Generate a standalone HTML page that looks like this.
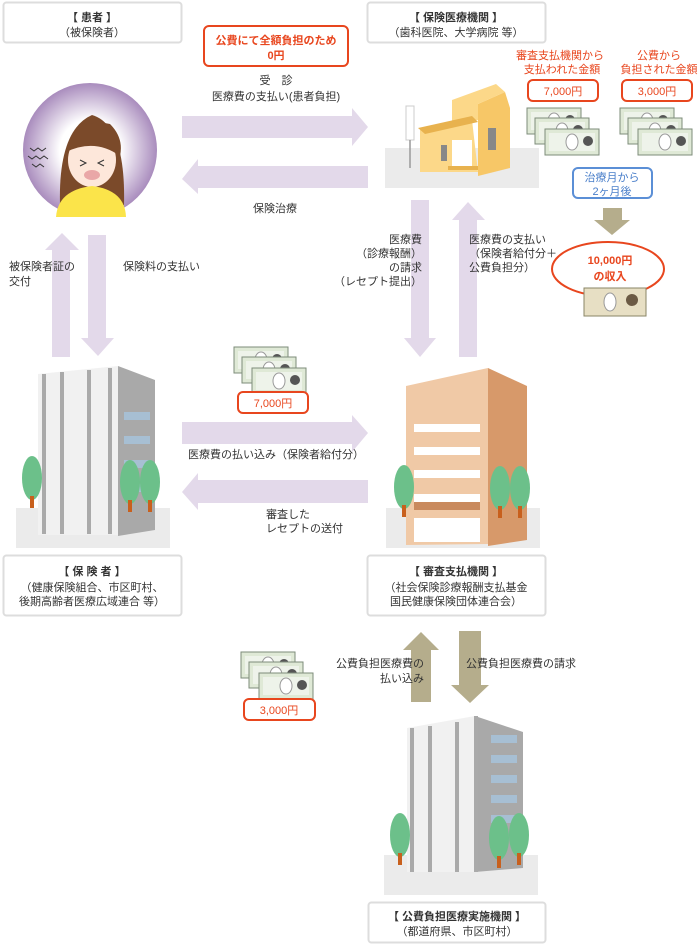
<!DOCTYPE html>
<html><head><meta charset="utf-8"><style>
body{margin:0;background:#fff}
svg{display:block}
text{font-family:"Liberation Sans","Noto Sans CJK JP",sans-serif;font-size:11px;fill:#333}
.r{fill:#e8461e}
.b{font-weight:bold}
</style></head><body>
<svg width="700" height="945" viewBox="0 0 700 945" xmlns="http://www.w3.org/2000/svg">
<defs>
<radialGradient id="pg" cx="50%" cy="50%" r="50%"><stop offset="0.45" stop-color="#fff"/><stop offset="1" stop-color="#a98cbd"/></radialGradient>
<g id="bill">
<rect x="0" y="0" width="54" height="26" fill="#dfe9d6" stroke="#7d8c7a"/>
<rect x="4" y="4" width="46" height="18" fill="#eef3ea"/>
<ellipse cx="27" cy="13" rx="6" ry="8" fill="#fff" stroke="#999"/>
<circle cx="43" cy="12" r="5" fill="#555"/>
</g>
<g id="bills">
<use href="#bill" x="0" y="0"/><use href="#bill" x="8" y="10"/><use href="#bill" x="18" y="21"/>
</g>
<g id="tree">
<ellipse cx="0" cy="0" rx="10" ry="22" fill="#6cc08a"/>
<rect x="-2" y="18" width="4" height="12" fill="#c8601d"/>
</g>
</defs>

<!-- top boxes -->
<rect x="3.5" y="2.5" width="178" height="40" rx="3" fill="#fff" stroke="#ddd" stroke-width="2"/>
<text x="92" y="21" text-anchor="middle" class="b" font-size="12">【 患者 】</text>
<text x="92" y="36" text-anchor="middle" font-size="10">（被保険者）</text>
<rect x="367.5" y="2.5" width="178" height="40" rx="3" fill="#fff" stroke="#ddd" stroke-width="2"/>
<text x="456" y="21" text-anchor="middle" class="b" font-size="12">【 保険医療機関 】</text>
<text x="456" y="36" text-anchor="middle" font-size="10">（歯科医院、大学病院 等）</text>

<rect x="204" y="26" width="144" height="40" rx="5" fill="#fff" stroke="#e8461e" stroke-width="2"/>
<text x="276" y="44" text-anchor="middle" class="r b" font-size="12">公費にて全額負担のため</text>
<text x="276" y="59" text-anchor="middle" class="r b" font-size="12">0円</text>

<text x="276" y="84" text-anchor="middle" font-size="12">受　診</text>
<text x="276" y="100" text-anchor="middle" font-size="12">医療費の支払い(患者負担)</text>

<!-- patient -->
<circle cx="90" cy="150" r="67" fill="url(#pg)"/>
<path d="M60 205 Q58 130 92 115 Q126 125 124 205 Z" fill="#7b4a2a"/>
<ellipse cx="92" cy="160" rx="24" ry="27" fill="#fde7da"/>
<path d="M66 152 Q76 116 110 124 Q124 138 120 156 Q95 138 66 152Z" fill="#7b4a2a"/>
<path d="M56 217 Q58 190 92 186 Q125 190 126 217 Z" fill="#fbe44a"/>
<ellipse cx="92" cy="175" rx="8" ry="5" fill="#e9a7a7"/>
<path d="M80 160 l6 3 -6 3 M104 160 l-6 3 6 3" stroke="#333" fill="none"/>
<path d="M30 148 l4 3 4-3 4 3 4-3 M28 156 l4 3 4-3 4 3 4-3 4 3 M32 164 l4 3 4-3 4 3" stroke="#333" fill="none"/>

<!-- horizontal arrows top -->
<path d="M182 116 H352 V108 L368 127 L352 146 V138 H182 Z" fill="#e3d9ea"/>
<path d="M368 166 H198 V159 L182 179 L198 194 V188 H368 Z" fill="#e3d9ea"/>
<text x="275" y="212" text-anchor="middle" font-size="12">保険治療</text>

<!-- clinic -->
<rect x="385" y="148" width="154" height="40" fill="#ebebeb"/>
<rect x="406" y="106" width="8" height="34" fill="#fff" stroke="#ccc"/>
<line x1="410" y1="140" x2="410" y2="168" stroke="#999" stroke-width="1.5"/>
<polygon points="420,130 472,120 478,172 420,172" fill="#fcd889"/>
<polygon points="478,104 505,92 510,108 510,168 478,176" fill="#f7c767"/>
<polygon points="452,100 496,84 505,92 478,104 478,120 452,124" fill="#fcd889"/>
<polygon points="418,128 472,116 478,122 425,134" fill="#e8b24e"/>
<rect x="452" y="140" width="20" height="30" fill="#fff"/>
<rect x="441" y="145" width="6" height="16" fill="#888"/>
<rect x="488" y="128" width="8" height="22" fill="#888"/>
<rect x="448" y="166" width="30" height="4" fill="#e8b24e"/>

<!-- right labels -->
<text x="560" y="59" text-anchor="middle" class="r" font-size="11">審査支払機関から</text>
<text x="562" y="73" text-anchor="middle" class="r" font-size="11">支払われた金額</text>
<text x="659" y="59" text-anchor="middle" class="r" font-size="11">公費から</text>
<text x="659" y="73" text-anchor="middle" class="r" font-size="11">負担された金額</text>
<rect x="528" y="80" width="70" height="21" rx="5" fill="#fff" stroke="#e8461e" stroke-width="2"/>
<text x="563" y="95" text-anchor="middle" class="r" font-size="12">7,000円</text>
<rect x="622" y="80" width="70" height="21" rx="5" fill="#fff" stroke="#e8461e" stroke-width="2"/>
<text x="657" y="95" text-anchor="middle" class="r" font-size="12">3,000円</text>
<use href="#bills" x="527" y="108"/>
<use href="#bills" x="620" y="108"/>
<rect x="573" y="168" width="79" height="30" rx="5" fill="#fff" stroke="#5b8fd6" stroke-width="2"/>
<text x="612" y="181" text-anchor="middle" font-size="11" style="fill:#4a7fca">治療月から</text>
<text x="612" y="195" text-anchor="middle" font-size="11" style="fill:#4a7fca">2ヶ月後</text>
<path d="M603 208 H622 V220 H630 L612 235 L594 220 H603 Z" fill="#b5ad8c"/>
<ellipse cx="608" cy="269" rx="56" ry="27" fill="#fff" stroke="#e8461e" stroke-width="2"/>
<text x="610" y="264" text-anchor="middle" class="r b" font-size="12">10,000円</text>
<text x="610" y="280" text-anchor="middle" class="r b" font-size="12">の収入</text>
<rect x="584" y="288" width="62" height="28" fill="#e7dfc4" stroke="#8a8466"/>
<ellipse cx="610" cy="302" rx="6" ry="9" fill="#fff" stroke="#999"/>
<circle cx="632" cy="300" r="6" fill="#6b5a44"/>

<!-- left vertical arrows -->
<path d="M52 357 V250 H45 L62 233 L79 250 H70 V357 Z" fill="#e3d9ea"/>
<path d="M88 235 V338 H81 L98 356 L114 338 H106 V235 Z" fill="#e3d9ea"/>
<text x="9" y="270" font-size="11">被保険者証の</text>
<text x="9" y="285" font-size="11">交付</text>
<text x="123" y="270" font-size="11">保険料の支払い</text>

<!-- right vertical arrows -->
<path d="M411 200 V338 H404 L420 357 L436 338 H429 V200 Z" fill="#e3d9ea"/>
<path d="M459 357 V220 H452 L468 202 L485 220 H477 V357 Z" fill="#e3d9ea"/>
<text x="422" y="243" text-anchor="end" font-size="11">医療費</text>
<text x="422" y="257" text-anchor="end" font-size="11">（診療報酬）</text>
<text x="422" y="271" text-anchor="end" font-size="11">の請求</text>
<text x="422" y="285" text-anchor="end" font-size="11">（レセプト提出）</text>
<text x="469" y="243" font-size="11">医療費の支払い</text>
<text x="469" y="257" font-size="11">（保険者給付分＋</text>
<text x="469" y="271" font-size="11">公費負担分）</text>

<!-- left building 保険者 -->
<rect x="16" y="508" width="154" height="40" fill="#ebebeb"/>
<polygon points="38,374 118,366 118,535 38,535" fill="#f1f1f1"/>
<polygon points="118,366 155,380 155,530 118,536" fill="#a9a9a9"/>
<rect x="42" y="374" width="4" height="160" fill="#aaa"/><rect x="60" y="372" width="4" height="162" fill="#aaa"/><rect x="87" y="370" width="4" height="164" fill="#aaa"/><rect x="108" y="368" width="4" height="166" fill="#aaa"/>
<g fill="#a7bfd3"><rect x="124" y="412" width="26" height="8"/><rect x="124" y="436" width="26" height="8"/><rect x="124" y="460" width="26" height="8"/><rect x="124" y="484" width="26" height="8"/></g>
<use href="#tree" x="32" y="478"/><use href="#tree" x="130" y="482"/><use href="#tree" x="150" y="482"/>

<!-- right building 審査支払機関 -->
<rect x="386" y="508" width="154" height="40" fill="#ebebeb"/>
<polygon points="406,386 488,368 488,544 406,545" fill="#f0c9a6"/>
<polygon points="488,368 527,386 527,540 488,546" fill="#d7996a"/>
<g fill="#fff">
<rect x="414" y="424" width="66" height="8"/><rect x="414" y="447" width="66" height="8"/><rect x="414" y="470" width="66" height="8"/><rect x="414" y="494" width="66" height="8"/><rect x="414" y="518" width="66" height="24"/></g>
<rect x="414" y="502" width="66" height="8" fill="#c98a5e"/>
<use href="#tree" x="404" y="487"/><use href="#tree" x="500" y="488"/><use href="#tree" x="520" y="488"/>

<!-- middle arrows -->
<use href="#bills" x="234" y="347"/>
<rect x="238" y="392" width="70" height="21" rx="5" fill="#fff" stroke="#e8461e" stroke-width="2"/>
<text x="273" y="407" text-anchor="middle" class="r" font-size="12">7,000円</text>
<path d="M182 422 H352 V415 L368 433 L352 452 V444 H182 Z" fill="#e3d9ea"/>
<text x="276" y="458" text-anchor="middle" font-size="11">医療費の払い込み（保険者給付分）</text>
<path d="M368 480 H198 V473 L182 492 L198 510 V503 H368 Z" fill="#e3d9ea"/>
<text x="266" y="518" font-size="11">審査した</text>
<text x="266" y="532" font-size="11">レセプトの送付</text>

<!-- middle boxes -->
<rect x="3.5" y="555.5" width="178" height="60" rx="3" fill="#fff" stroke="#ddd" stroke-width="2"/>
<text x="92" y="575" text-anchor="middle" class="b" font-size="12">【 保 険 者 】</text>
<text x="92" y="591" text-anchor="middle" font-size="10">（健康保険組合、市区町村、</text>
<text x="92" y="605" text-anchor="middle" font-size="10">後期高齢者医療広域連合 等）</text>
<rect x="367.5" y="555.5" width="178" height="60" rx="3" fill="#fff" stroke="#ddd" stroke-width="2"/>
<text x="456" y="575" text-anchor="middle" class="b" font-size="12">【 審査支払機関 】</text>
<text x="456" y="591" text-anchor="middle" font-size="10">（社会保険診療報酬支払基金</text>
<text x="456" y="605" text-anchor="middle" font-size="10">国民健康保険団体連合会）</text>

<!-- bottom arrows -->
<path d="M411 702 V650 H403 L421 632 L439 650 H431 V702 Z" fill="#b5ad8c"/>
<path d="M459 631 V685 H451 L470 703 L489 685 H481 V631 Z" fill="#b5ad8c"/>
<text x="424" y="667" text-anchor="end" font-size="11">公費負担医療費の</text>
<text x="424" y="682" text-anchor="end" font-size="11">払い込み</text>
<text x="466" y="667" font-size="11">公費負担医療費の請求</text>
<use href="#bills" x="241" y="652"/>
<rect x="244" y="699" width="71" height="21" rx="5" fill="#fff" stroke="#e8461e" stroke-width="2"/>
<text x="279" y="714" text-anchor="middle" class="r" font-size="12">3,000円</text>

<!-- bottom building -->
<rect x="384" y="855" width="154" height="40" fill="#ebebeb"/>
<polygon points="407,728 475,716 475,872 407,872" fill="#f1f1f1"/>
<polygon points="475,716 523,732 523,868 475,872" fill="#a9a9a9"/>
<rect x="410" y="728" width="4" height="144" fill="#aaa"/><rect x="428" y="726" width="4" height="146" fill="#aaa"/><rect x="455" y="722" width="4" height="150" fill="#aaa"/><rect x="474" y="716" width="4" height="156" fill="#aaa"/>
<g fill="#a7bfd3"><rect x="491" y="735" width="26" height="8"/><rect x="491" y="755" width="26" height="8"/><rect x="491" y="775" width="26" height="8"/><rect x="491" y="795" width="26" height="8"/><rect x="491" y="815" width="26" height="8"/></g>
<use href="#tree" x="400" y="835"/><use href="#tree" x="499" y="838"/><use href="#tree" x="519" y="835"/>

<rect x="368.5" y="902.5" width="177" height="40" rx="3" fill="#fff" stroke="#ddd" stroke-width="2"/>
<text x="457" y="920" text-anchor="middle" class="b" font-size="12">【 公費負担医療実施機関 】</text>
<text x="457" y="935" text-anchor="middle" font-size="10">（都道府県、市区町村）</text>
</svg>
</body></html>
